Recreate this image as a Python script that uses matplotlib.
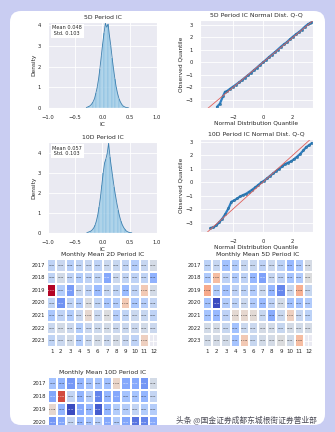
import numpy as np
import pandas as pd
import matplotlib
matplotlib.use("Agg")
import matplotlib.pyplot as plt
import seaborn as sns
from matplotlib.patches import FancyBboxPatch

# IC histograms (bin start, bin width, densities)
hist_5d_start = -0.31
hist_5d_width = 0.025
hist_5d_density = [0.02, 0.05, 0.08, 0.12, 0.2, 0.3, 0.45, 0.7, 1.0, 1.4, 1.9, 2.5, 3.1, 3.6, 4.1,
                   3.9, 4.05, 3.5, 3.0, 2.4, 1.9, 1.4, 1.0, 0.7, 0.45, 0.3, 0.18, 0.1, 0.06, 0.03, 0.02, 0.01]
hist_10d_start = -0.30
hist_10d_width = 0.025
hist_10d_density = [0.02, 0.04, 0.07, 0.1, 0.16, 0.25, 0.38, 0.6, 0.9, 1.3, 1.8, 2.4, 3.0, 3.5, 3.7,
                    4.0, 4.5, 3.8, 3.3, 2.8, 2.3, 1.9, 1.5, 1.15, 0.85, 0.6, 0.42, 0.28, 0.18, 0.1, 0.06, 0.03, 0.02, 0.01]

# Q-Q points (theoretical, observed)
qq_5d_x = [-3.07, -2.87, -2.67, -2.53, -2.4, -2.2, -2.0, -1.8, -1.6, -1.4, -1.2, -1.0, -0.8, -0.6, -0.4, -0.2, 0.0,
           0.2, 0.4, 0.6, 0.8, 1.0, 1.2, 1.4, 1.6, 1.8, 2.0, 2.2, 2.4, 2.6, 2.8, 3.0, 3.15, 3.27]
qq_5d_y = [-3.57, -3.3, -2.72, -2.35, -2.3, -2.12, -1.95, -1.78, -1.6, -1.42, -1.22, -1.03, -0.83, -0.62, -0.42, -0.2, 0.0,
           0.2, 0.42, 0.62, 0.82, 1.03, 1.25, 1.45, 1.62, 1.85, 2.05, 2.25, 2.42, 2.62, 2.85, 3.05, 3.15, 3.25]
qq_10d_x = [-3.5, -3.3, -3.1, -2.9, -2.7, -2.5, -2.3, -2.1, -1.9, -1.7, -1.5, -1.3, -1.1, -0.9, -0.7, -0.5, -0.3, -0.1,
            0.1, 0.3, 0.5, 0.7, 0.9, 1.1, 1.3, 1.5, 1.7, 1.9, 2.1, 2.3, 2.5, 2.7, 2.9, 3.1, 3.27]
qq_10d_y = [-3.4, -3.35, -3.2, -2.95, -2.7, -2.35, -1.95, -1.45, -1.35, -1.2, -1.05, -0.95, -0.85, -0.7, -0.55, -0.38, -0.2, -0.02,
            0.12, 0.3, 0.48, 0.66, 0.84, 1.0, 1.18, 1.35, 1.45, 1.55, 1.72, 1.9, 2.1, 2.35, 2.6, 2.75, 2.9]

years = [2017, 2018, 2019, 2020, 2021, 2022, 2023]
years_10d = [2017, 2018, 2019, 2020]   # only these rows are visible on the card
months = list(range(1, 13))
nan = np.nan

ic_2d = [
    [0.031, 0.022, 0.038, 0.030, 0.024, 0.031, 0.021, 0.023, 0.029, 0.040, 0.024, 0.010],
    [0.030, 0.012, 0.031, 0.041, 0.033, 0.030, 0.082, 0.020, 0.028, 0.031, 0.030, 0.072],
    [-0.151, 0.041, 0.092, 0.021, 0.032, 0.061, 0.024, 0.030, 0.063, 0.032, -0.031, 0.011],
    [0.030, 0.101, 0.031, 0.042, 0.003, 0.030, 0.051, 0.041, -0.032, 0.048, 0.039, 0.028],
    [0.050, 0.031, 0.042, 0.022, -0.012, 0.021, 0.002, 0.040, 0.030, 0.021, 0.023, 0.031],
    [0.021, 0.011, 0.019, 0.041, 0.022, 0.018, 0.012, 0.020, 0.021, 0.019, 0.012, 0.020],
    [0.030, 0.021, 0.012, 0.042, 0.021, 0.011, 0.019, 0.010, 0.022, 0.031, -0.024, nan],
]
ic_5d = [
    [0.031, 0.022, 0.052, 0.040, 0.022, 0.021, 0.030, 0.020, 0.031, 0.061, 0.042, 0.008],
    [0.042, -0.041, 0.030, 0.041, 0.030, 0.062, 0.081, 0.022, 0.030, 0.050, 0.041, 0.002],
    [-0.058, 0.040, 0.050, 0.030, 0.031, 0.041, 0.020, 0.062, 0.101, 0.020, -0.052, 0.021],
    [0.052, 0.140, 0.040, 0.031, 0.020, 0.041, 0.060, 0.030, 0.012, 0.052, 0.051, 0.041],
    [0.050, 0.061, 0.030, -0.008, -0.010, -0.006, 0.021, 0.072, 0.020, -0.021, 0.022, 0.031],
    [0.011, 0.010, 0.021, 0.052, 0.020, 0.019, 0.010, 0.012, 0.021, 0.010, 0.011, 0.010],
    [0.012, 0.010, 0.011, 0.050, -0.030, 0.021, 0.011, 0.010, 0.002, 0.012, -0.041, nan],
]
ic_10d = [
    [0.041, 0.052, 0.071, 0.050, 0.040, 0.041, 0.042, -0.012, 0.061, 0.060, 0.072, 0.008],
    [0.062, -0.092, 0.021, 0.052, 0.030, 0.081, 0.050, 0.061, 0.041, 0.040, 0.051, 0.020],
    [-0.008, 0.051, 0.112, 0.060, 0.050, 0.102, 0.051, 0.031, 0.030, 0.021, 0.031, 0.030],
    [0.071, 0.062, 0.020, 0.050, 0.041, 0.030, 0.061, 0.032, 0.062, 0.091, 0.082, 0.060],
]

sns.set_style("darkgrid")
plt.rcParams["font.family"] = ["DejaVu Sans"]
plt.rcParams["axes.titlesize"] = 4.4
plt.rcParams["axes.labelsize"] = 4.2
plt.rcParams["xtick.labelsize"] = 3.8
plt.rcParams["ytick.labelsize"] = 3.8
plt.rcParams["axes.titlepad"] = 2.5
plt.rcParams["xtick.major.pad"] = 1.5
plt.rcParams["ytick.major.pad"] = 1.5
plt.rcParams["axes.labelpad"] = 1.2
plt.rcParams["grid.linewidth"] = 0.6

W, H = 335, 432
fig = plt.figure(figsize=(W / 100, H / 100), dpi=100)
fig.patch.set_facecolor("#c9cdf2")

# white card behind everything
bg = fig.add_axes([0, 0, 1, 1], zorder=-5)
bg.set_xlim(0, W)
bg.set_ylim(H, 0)
bg.axis("off")
card = FancyBboxPatch((10, 11), 315, 414, boxstyle="round,pad=0,rounding_size=11",
                      facecolor="white", edgecolor="none")
bg.add_patch(card)


def box(x0, y0, x1, y1):
    return [x0 / W, 1 - y1 / H, (x1 - x0) / W, (y1 - y0) / H]


def hist_panel(rect, start, width, dens, title, mean, std, ymax):
    ax = fig.add_axes(rect)
    edges = start + width * np.arange(len(dens))
    ax.bar(edges, dens, width=width, align="edge", color="#6fb3dc", alpha=0.75,
           edgecolor="white", linewidth=0.2)
    ax.plot(edges + width / 2, dens, color="#3d7fae", lw=0.6)
    ax.set_xlim(-1, 1)
    ax.set_ylim(0, ymax)
    ax.set_xticks([-1.0, -0.5, 0.0, 0.5, 1.0])
    ax.set_yticks([0, 1, 2, 3, 4])
    ax.set_title(title)
    ax.set_xlabel("IC")
    ax.set_ylabel("Density")
    ax.text(0.04, 0.96, "Mean %.3f\n Std. %.3f" % (mean, std), transform=ax.transAxes,
            va="top", ha="left", fontsize=3.6,
            bbox=dict(facecolor="white", edgecolor="none", pad=1.2))
    return ax


def qq_panel(rect, xs, ys, title, xlim, ylim):
    ax = fig.add_axes(rect)
    ax.plot(xs, ys, color="#2f80c4", lw=1.6, solid_capstyle="round")
    ax.plot(xs, ys, "o", color="#2f80c4", ms=1.6, mec="#23607f", mew=0.3)
    ax.plot([-5, 5], [-5, 5], color="#e0605a", lw=0.6)
    ax.set_xlim(*xlim)
    ax.set_ylim(*ylim)
    ax.set_xticks([-2, 0, 2])
    ax.set_yticks([-3, -2, -1, 0, 1, 2, 3])
    ax.set_title(title)
    ax.set_xlabel("Normal Distribution Quantile", labelpad=0.6)
    ax.set_ylabel("Observed Quantile")
    return ax


def heat_panel(rect, vals, rows, title):
    ax = fig.add_axes(rect)
    df = pd.DataFrame(vals, index=rows, columns=months)
    sns.heatmap(df, ax=ax, cmap="coolwarm_r", center=0.0, annot=True, fmt=".3f",
                annot_kws={"size": 1.6}, cbar=False, linewidths=0.3, linecolor="white")
    ax.set_title(title, pad=2.0)
    ax.set_xlabel("")
    ax.set_ylabel("")
    ax.tick_params(axis="y", rotation=0, length=0, labelsize=3.8)
    ax.tick_params(axis="x", rotation=0, length=0, labelsize=4.0)
    return ax


hist_panel(box(48, 22, 157, 108), hist_5d_start, hist_5d_width, hist_5d_density,
           "5D Period IC", 0.048, 0.103, 4.15)
qq_panel(box(200, 20, 313, 108), qq_5d_x, qq_5d_y, "5D Period IC Normal Dist. Q-Q",
         (-4.2, 3.35), (-3.65, 3.4))
hist_panel(box(48, 142, 157, 233), hist_10d_start, hist_10d_width, hist_10d_density,
           "10D Period IC", 0.057, 0.103, 4.55)
qq_panel(box(200, 139, 313, 232), qq_10d_x, qq_10d_y, "10D Period IC Normal Dist. Q-Q",
         (-4.2, 3.35), (-3.7, 3.2))

heat_panel(box(47, 259, 158, 347), ic_2d, years, "Monthly Mean 2D Period IC")
heat_panel(box(203, 259, 313, 347), ic_5d, years, "Monthly Mean 5D Period IC")
ax10 = heat_panel(box(48, 377, 158, 429), ic_10d, years_10d, "Monthly Mean 10D Period IC")
# the card cuts this panel off, so its month labels fall outside
ax10.tick_params(axis="x", labelbottom=False)
for art in ax10.get_children():
    art.set_clip_path(card)

fig.text(176 / W, 1 - 420 / H, "头条 @国金证券成都东城根街证券营业部", fontsize=5.6,
         color="#4a4a55", family=["Noto Sans CJK SC", "DejaVu Sans"], va="center")

fig.savefig("out.png", dpi=100, facecolor=fig.get_facecolor())
